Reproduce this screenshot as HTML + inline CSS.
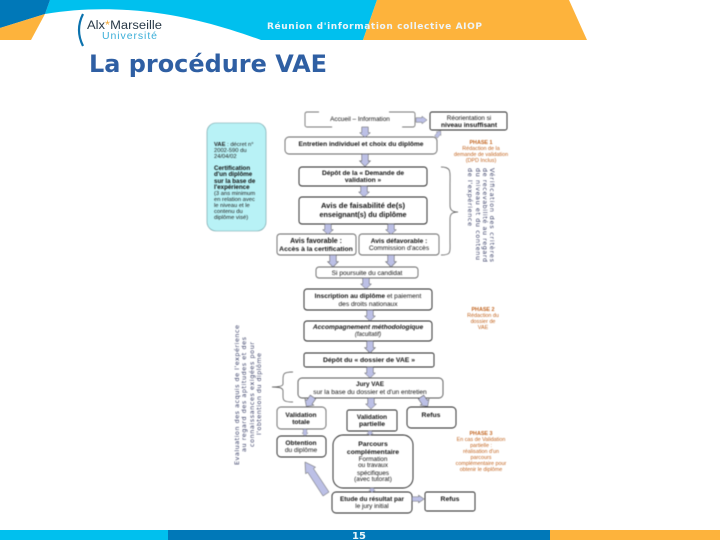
<!DOCTYPE html>
<html><head><meta charset="utf-8">
<style>
html,body{margin:0;padding:0;background:#fff}
body{width:720px;height:540px;overflow:hidden;position:relative}
svg{position:absolute;left:0;top:0}
#h{filter:blur(.3px)}
#d{filter:blur(.5px)}
</style></head><body>
<svg id="h" width="720" height="540" viewBox="0 0 720 540" font-family="'Liberation Sans',sans-serif">
<path d="M50 0H377L363 40H261C225 27 190 17 150 12C115 8 80 8 45 14Z" fill="#00c0ee"/>
<path d="M0 0H50L45 14L0 28Z" fill="#0078b8"/>
<path d="M0 28L45 14L31 40H0Z" fill="#fdb33c"/>
<path d="M377 0H569L587 40H363Z" fill="#fdb33c"/>
<rect x="0" y="530" width="168" height="10" fill="#00c0ee"/>
<rect x="168" y="530" width="382" height="10" fill="#0078b8"/>
<rect x="550" y="530" width="170" height="10" fill="#fdb33c"/>
<text x="267" y="29" font-family="'DejaVu Sans',sans-serif" font-weight="bold" font-size="9" fill="#eef5f8" textLength="215" lengthAdjust="spacing">Réunion d'information collective AIOP</text>
<path d="M83 14Q75 30 83 46" fill="none" stroke="#0b72ad" stroke-width="2.2"/>
<text x="87" y="29" font-size="11.5" fill="#2a3a48" textLength="75" lengthAdjust="spacingAndGlyphs">Alx<tspan fill="#f2a93a">*</tspan>Marseille</text>
<text x="102" y="39" font-size="10.5" fill="#3aaed8" textLength="55" lengthAdjust="spacing">Université</text>
<text x="89" y="72" font-family="'DejaVu Sans',sans-serif" font-weight="bold" font-size="24" fill="#2f5fa3" textLength="238" lengthAdjust="spacingAndGlyphs">La procédure VAE</text>
<text x="359" y="539" font-family="'DejaVu Sans',sans-serif" font-weight="bold" font-size="10" fill="#e8f6fb" text-anchor="middle">15</text>
</svg>

<svg id="d" width="720" height="540" viewBox="0 0 720 540" font-family="'Liberation Sans',sans-serif" font-size="6.6" fill="#111">
<defs>
<polygon id="a" points="-3.3,0 3.3,0 3.3,6 5.4,6 0,11 -5.4,6 -3.3,6" fill="#bcc0e6" stroke="#555" stroke-width=".5"/>
</defs>

<rect x="207" y="123" width="59" height="108" rx="9" fill="#b8f2f6" stroke="#6a9aa0" stroke-width=".6"/>
<g font-size="5.8" fill="#222">
<text x="214" y="146"><tspan font-weight="bold">VAE</tspan> : décret n°</text>
<text x="214" y="152">2002-590 du</text>
<text x="214" y="158">24/04/02</text>
<g font-weight="bold" font-size="6.2" fill="#111">
<text x="214" y="170">Certification</text>
<text x="214" y="176">d'un diplôme</text>
<text x="214" y="183">sur la base de</text>
<text x="214" y="189">l'expérience</text>
</g>
<text x="214" y="195">(3 ans minimum</text>
<text x="214" y="201">en relation avec</text>
<text x="214" y="207">le niveau et le</text>
<text x="214" y="213">contenu du</text>
<text x="214" y="219">diplôme visé)</text>
</g>

<g fill="#fff" stroke="#222" stroke-width=".9">
<rect x="305" y="112" width="110" height="15" rx="2" stroke-dasharray="12 70 40 0" stroke="#777"/>
<rect x="430" y="112" width="77" height="18" rx="2"/>
<rect x="285" y="137" width="152" height="17" rx="4" stroke="#666"/>
<rect x="299" y="167" width="128" height="19" rx="3"/>
<rect x="299" y="197" width="128" height="27" rx="3"/>
<rect x="277" y="234" width="79" height="21" rx="3" stroke="#666"/>
<rect x="359" y="234" width="80" height="21" rx="3" stroke="#666"/>
<rect x="316" y="267" width="102" height="11" rx="3" stroke="#666"/>
<rect x="304" y="289" width="128" height="21" rx="3"/>
<rect x="304" y="321" width="128" height="20" rx="3"/>
<rect x="304" y="353" width="130" height="14" rx="2"/>
<rect x="298" y="378" width="145" height="20" rx="4" stroke="#555"/>
<rect x="277" y="407" width="49" height="22" rx="4" stroke="#666"/>
<rect x="347" y="410" width="50" height="21" rx="2"/>
<rect x="407" y="407" width="49" height="21" rx="4"/>
<rect x="277" y="436" width="49" height="21" rx="4"/>
<rect x="333" y="435" width="80" height="53" rx="10"/>
<rect x="332" y="492" width="80" height="21" rx="4"/>
<rect x="425" y="492" width="50" height="19" rx="2"/>
</g>

<use href="#a" transform="translate(365,127) scale(1,.95)"/>
<use href="#a" transform="translate(365,154) scale(1,1.15)"/>
<use href="#a" transform="translate(364,186) scale(1,1)"/>
<use href="#a" transform="translate(328,224) scale(1,.95)"/>
<use href="#a" transform="translate(391,224) scale(1,.95)"/>
<use href="#a" transform="translate(333,255) scale(1,1.1)"/>
<use href="#a" transform="translate(391,255) scale(1,1.1)"/>
<use href="#a" transform="translate(366,278) scale(1,1)"/>
<use href="#a" transform="translate(370,310) scale(1,1)"/>
<use href="#a" transform="translate(370,341) scale(1,1.1)"/>
<use href="#a" transform="translate(370,367) scale(1,1)"/>
<use href="#a" transform="translate(371,398) scale(1,1)"/>
<use href="#a" transform="translate(313,397) rotate(35) scale(1,1.05)"/>
<use href="#a" transform="translate(421,397) rotate(-35) scale(1,1.05)"/>
<use href="#a" transform="translate(305,429) scale(.55,.65)"/>
<use href="#a" transform="translate(370,431) scale(.6,.4)"/>
<use href="#a" transform="translate(372,488) scale(.6,.4)"/>
<use href="#a" transform="translate(412,499) rotate(-90) scale(.7,1.1)"/>
<use href="#a" transform="translate(416,120) rotate(-90) scale(.7,1)"/>
<use href="#a" transform="translate(436,137) rotate(-142) scale(.55,.7)" />
<polygon points="329,492 323,496 307.7,472.4 305.6,473.8 305,462 315.6,467.2 313.5,468.6" fill="#bcc0e6" stroke="#555" stroke-width=".5"/>

<g fill="none" stroke="#444" stroke-width=".7">
<path d="M441 167C452 167 450 172 450 185V205C450 210 452 212 458 212C452 212 450 214 450 219V240C450 252 452 255 441 255"/>
<path d="M293 372C283 372 283 374 283 380V384C283 386 280 387 272 387C280 387 283 388 283 391V396C283 400 283 402 293 402"/>
</g>

<g text-anchor="middle">
<text x="360" y="121" font-size="6.4">Accueil – Information</text>
<text x="469" y="120" font-size="6.4">Réorientation si</text>
<text x="469" y="127" font-size="6.6" font-weight="bold">niveau insuffisant</text>
<text x="361" y="146" font-size="6.6" font-weight="bold">Entretien individuel et choix du diplôme</text>
<text x="363" y="175" font-size="6.6"><tspan font-weight="bold">Dépôt de la « Demande de</tspan></text>
<text x="363" y="182" font-size="6.6" font-weight="bold">validation »</text>
<text x="363" y="208" font-size="7.6" font-weight="bold">Avis de faisabilité de(s)</text>
<text x="363" y="217" font-size="7.2" font-weight="bold">enseignant(s) du diplôme</text>
<text x="316" y="243" font-size="7" font-weight="bold">Avis favorable :</text>
<text x="316" y="251" font-size="6.8" font-weight="bold">Accès à la certification</text>
<text x="399" y="243" font-size="6.6" font-weight="bold">Avis défavorable :</text>
<text x="399" y="250" font-size="6.6">Commission d'accès</text>
<text x="367" y="275" font-size="6.6">Si poursuite du candidat</text>
<text x="368" y="298" font-size="6.6"><tspan font-weight="bold">Inscription au diplôme</tspan> et paiement</text>
<text x="368" y="306" font-size="6.6">des droits nationaux</text>
<text x="368" y="329" font-size="6.6" font-style="italic" font-weight="bold">Accompagnement méthodologique</text>
<text x="368" y="336" font-size="6" font-style="italic">(facultatif)</text>
<text x="369" y="362" font-size="6.8" font-weight="bold">Dépôt du « dossier de VAE »</text>
<text x="370" y="386" font-size="6.4" font-weight="bold">Jury VAE</text>
<text x="370" y="394" font-size="6.6">sur la base du dossier et d'un entretien</text>
<text x="301" y="417" font-size="6.6" font-weight="bold">Validation</text>
<text x="301" y="424" font-size="6.6" font-weight="bold">totale</text>
<text x="372" y="419" font-size="6.4" font-weight="bold">Validation</text>
<text x="372" y="426" font-size="6.8" font-weight="bold">partielle</text>
<text x="431" y="417" font-size="6.8" font-weight="bold">Refus</text>
<text x="301" y="445" font-size="6.6" font-weight="bold">Obtention</text>
<text x="301" y="452" font-size="6.6">du diplôme</text>
<text x="373" y="446" font-size="6.8" font-weight="bold">Parcours</text>
<text x="373" y="454" font-size="6.8" font-weight="bold">complémentaire</text>
<text x="373" y="461" font-size="6.4">Formation</text>
<text x="373" y="467" font-size="6.4">ou travaux</text>
<text x="373" y="475" font-size="6.4">spécifiques</text>
<text x="373" y="481" font-size="6.4">(avec tutorat)</text>
<text x="372" y="501" font-size="6.4" font-weight="bold">Etude du résultat par</text>
<text x="372" y="508" font-size="6.4">le jury initial</text>
<text x="450" y="501" font-size="6.8" font-weight="bold">Refus</text>
</g>

<g text-anchor="middle" font-size="5.4" fill="#c2641f">
<text x="481" y="144" font-weight="bold">PHASE 1</text>
<text x="481" y="150">Rédaction de la</text>
<text x="481" y="156">demande de validation</text>
<text x="481" y="162">(DPD Inclus)</text>
<text x="483" y="311" font-weight="bold">PHASE 2</text>
<text x="483" y="317">Rédaction du</text>
<text x="483" y="323">dossier de</text>
<text x="483" y="329">VAE</text>
<text x="481" y="435" font-weight="bold">PHASE 3</text>
<text x="481" y="441">En cas de Validation</text>
<text x="481" y="447">partielle :</text>
<text x="481" y="453">réalisation d'un</text>
<text x="481" y="459">parcours</text>
<text x="481" y="465">complémentaire pour</text>
<text x="481" y="471">obtenir le diplôme</text>
</g>

<g font-size="6.4" fill="#3a4068" font-family="'DejaVu Sans',sans-serif">
<text transform="translate(490,168) rotate(90)" textLength="94" lengthAdjust="spacing">Vérification des critères</text>
<text transform="translate(483,168) rotate(90)" textLength="94" lengthAdjust="spacing">de recevabilité au regard</text>
<text transform="translate(476,168) rotate(90)" textLength="92" lengthAdjust="spacing">du niveau et du contenu</text>
<text transform="translate(468,168) rotate(90)" textLength="58" lengthAdjust="spacing">de l'expérience</text>
<text transform="translate(239,465) rotate(-90)" textLength="140" lengthAdjust="spacing">Evaluation des acquis de l'expérience</text>
<text transform="translate(246,452) rotate(-90)" textLength="115" lengthAdjust="spacing">au regard des aptitudes et des</text>
<text transform="translate(254,447) rotate(-90)" textLength="105" lengthAdjust="spacing">connaissances exigées pour</text>
<text transform="translate(261,435) rotate(-90)" textLength="82" lengthAdjust="spacing">l'obtention du diplôme</text>
</g>
</svg>
</body></html>
